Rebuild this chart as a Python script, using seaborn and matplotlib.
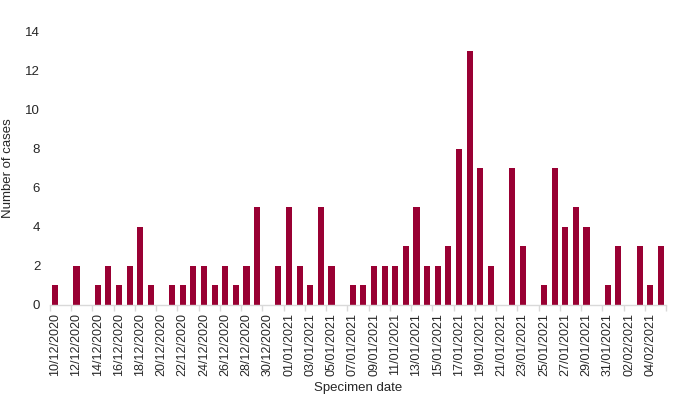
import matplotlib
matplotlib.use("Agg")
import matplotlib.pyplot as plt
import seaborn as sns
import pandas as pd
import numpy as np

dates = pd.date_range("2020-12-10", "2021-02-05", freq="D").strftime("%d/%m/%Y").tolist()
cases = [1, 0, 2, 0, 1, 2, 1, 2, 4, 1,
         0, 1, 1, 2, 2, 1, 2, 1, 2, 5,
         0, 2, 5, 2, 1, 5, 2, 0, 1, 1,
         2, 2, 2, 3, 5, 2, 2, 3, 8, 13,
         7, 2, 0, 7, 3, 0, 1, 7, 4, 5,
         4, 0, 1, 3, 0, 3, 1, 3]
y_ticks = [0, 2, 4, 6, 8, 10, 12, 14]

df = pd.DataFrame({"date": dates, "cases": cases})

sns.set_theme(style="white")
plt.rcParams["font.family"] = ["Liberation Sans", "DejaVu Sans"]

fig = plt.figure(figsize=(6.75, 3.99), dpi=100)
ax = fig.add_axes([0.074, 0.236, 0.913, 0.684])
sns.barplot(data=df, x="date", y="cases", color="#990033", saturation=1,
            width=0.58, linewidth=0, ax=ax)

ax.set_ylim(0, 14)
ax.set_yticks(y_ticks)
ax.set_yticklabels([str(v) for v in y_ticks], fontsize=9.5)
ax.set_xlim(-0.5, len(dates) - 0.5)
idx = list(range(0, len(dates) - 1, 2))
ax.set_xticks(idx)
ax.set_xticklabels([dates[i] for i in idx], rotation=90, fontsize=9)
ax.set_xticks([i - 0.5 for i in range(0, len(dates) + 1, 2)], minor=True)
ax.tick_params(axis="x", which="major", length=0, pad=6)
ax.tick_params(axis="x", which="minor", length=4, color="#d9d9d9", width=1, bottom=True)
ax.tick_params(axis="y", length=0, pad=7)

for s in ["top", "right", "left"]:
    ax.spines[s].set_visible(False)
ax.spines["bottom"].set_color("#d9d9d9")
ax.spines["bottom"].set_linewidth(1)

ax.set_xlabel("Specimen date", fontsize=9.5, labelpad=4)
ax.set_ylabel("Number of cases", fontsize=9.5, labelpad=8)

fig.savefig("out.png", dpi=100)
